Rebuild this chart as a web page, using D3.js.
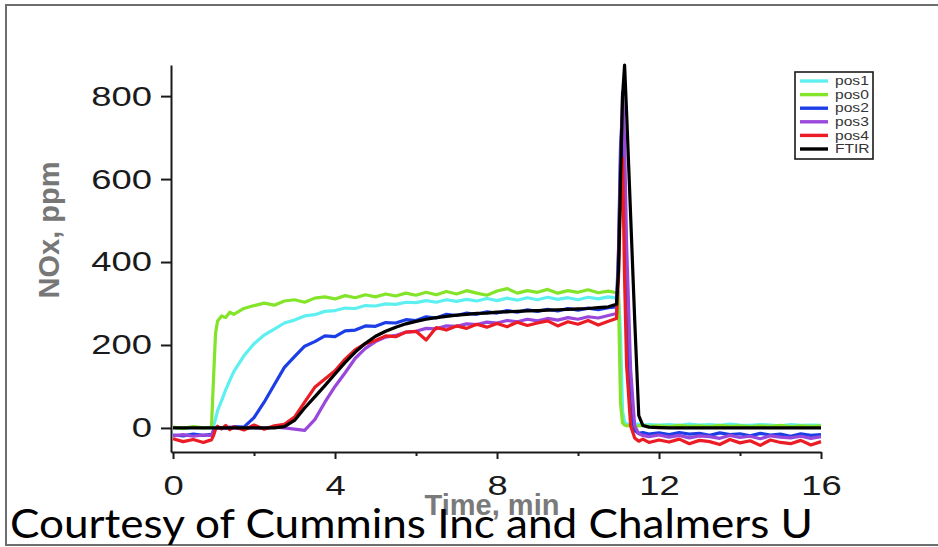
<!DOCTYPE html>
<html>
<head>
<meta charset="utf-8">
<script src="https://cdn.jsdelivr.net/npm/d3@7"></script>
<style>
	body { margin: 0; background: #fff; }
	svg { display: block; }
</style>
</head>
<body>
<svg id="chart" width="938" height="547"></svg>
<script>
// time axis (min), finer around the step-ups and the spike
const times = [
	0, 0.25, 0.5, 0.75, 0.9, 0.95,
	1.0, 1.05, 1.1, 1.2, 1.3, 1.4, 1.5,
	1.75, 2, 2.25, 2.5, 2.75, 3, 3.25, 3.5, 3.75,
	4, 4.25, 4.5, 4.75, 5, 5.25, 5.5, 5.75,
	6, 6.25, 6.5, 6.75, 7, 7.25, 7.5, 7.75,
	8, 8.25, 8.5, 8.75, 9, 9.25, 9.5, 9.75,
	10, 10.25, 10.5, 10.75, 10.95, 11, 11.05, 11.1,
	11.15, 11.2, 11.3, 11.4, 11.5, 11.6, 11.75, 12,
	12.25, 12.5, 12.75, 13, 13.25, 13.5, 13.75, 14, 14.25, 14.5, 14.75, 15, 15.25, 15.5, 15.75, 16
];

// NOx, ppm
const pos1 = [
	1, -2, 2, 0, 1, 0,
	3, 22, 42, 66, 92, 114, 136,
	174, 203, 224, 238, 253, 260, 270, 273, 281,
	283, 289, 288, 295, 294, 299, 298, 303,
	302, 307, 303, 309, 305, 310, 306, 312,
	307, 313, 308, 314, 309, 315, 310, 314,
	309, 315, 311, 316, 313, 330, 220, 40,
	14, 10, 9, 8, 9, 7, 8, 7,
	8, 6, 9, 7, 8, 6, 9, 7, 6, 8, 7, 5, 8, 6, 7, 6
];
const pos0 = [
	2, -1, 3, 0, 1, 4,
	120, 228, 258, 270, 266, 279, 274,
	288, 295, 301, 296, 306, 309, 303, 313, 316,
	311, 319, 314, 321, 316, 323, 318, 325,
	320, 327, 321, 329, 323, 331, 325, 320,
	330, 336, 325, 331, 327, 334, 325, 331,
	327, 333, 326, 330, 326, 310, 60, 12,
	7, 5, 6, 4, 5, 6, 4, 5,
	3, 6, 4, 5, 3, 6, 4, 5, 3, 5, 4, 6, 3, 5, 4, 5
];
const pos2 = [
	-17, -19, -15, -18, -16, -17,
	-6, -1, 1, -2, 2, 0, 3,
	2, 25, 62, 104, 146, 172, 197, 208, 222,
	220, 234, 236, 246, 245, 254, 253, 261,
	259, 268, 265, 274, 271, 277, 274, 280,
	277, 283, 279, 285, 281, 286, 282, 288,
	284, 289, 285, 290, 292, 430, 680, 760,
	520, 260, 40, -6, -13, -11, -15, -12,
	-16, -11, -15, -13, -18, -12, -16, -14, -19, -13, -17, -15, -20, -14, -18, -16
];
const pos3 = [
	-19, -16, -20, -17, -18, -18,
	-8, -2, 0, 1, -1, 2, 0,
	-2, 1, -1, 2, 0, -3, -6, 20, 62,
	100, 133, 168, 192, 208, 219, 223, 231,
	233, 240, 239, 246, 245, 251, 249, 255,
	253, 259, 256, 262, 258, 264, 260, 266,
	262, 268, 265, 271, 276, 410, 640, 810,
	690, 440, 140, 5, -14, -18, -21, -17,
	-22, -18, -24, -19, -21, -25, -18, -23, -20, -26, -19, -22, -24, -20, -25, -21
];
const pos4 = [
	-26, -33, -28, -35, -30, -29,
	-18, -3, 4, -2, 6, -4, 3,
	-5, 7, -3, 5, 9, 26, 62, 98, 118,
	138, 166, 189, 203, 211, 222, 220, 231,
	233, 212, 242, 236, 246, 240, 250, 243,
	252, 244, 255, 247, 253, 258, 246, 256,
	250, 259, 248, 257, 264, 360, 560, 650,
	360, 150, 5, -24, -32, -27, -35, -29,
	-34, -27, -38, -30, -33, -40, -28, -36, -31, -42, -29, -35, -38, -30, -41, -33
];
const ftir = [
	0, 0, 0, 0, 0, 0,
	0, 0, 0, 0, 0, 0, 0,
	0, 0, 0, 0, 3, 18, 48, 75, 102,
	130, 158, 183, 204, 221, 233, 243, 251,
	257, 262, 266, 269, 272, 274, 276, 277,
	279, 280, 281, 282, 283, 284, 285, 286,
	287, 288, 290, 292, 298, 380, 600, 800,
	875, 760, 510, 260, 30, 6, 2, 1,
	0, 0, 0, 0, 0, 0, 0, 0, 0, 0, 0, 0, 0, 0, 0, 0
];

const seriesNames = ["pos1", "pos0", "pos2", "pos3", "pos4", "FTIR"];
const seriesValues = [pos1, pos0, pos2, pos3, pos4, ftir];
const seriesColors = ["#5ef0f0", "#84e42a", "#1c3ee6", "#9a48dc", "#ec1c24", "#000000"];

const xTicks = [0, 4, 8, 12, 16];
const xMinorTicks = [2, 6, 10, 14];
const yTicks = [0, 200, 400, 600, 800];

const svg = d3.select("#chart");
const stretch = 1.3; // the tick fonts in the picture are wide

// outer frame (right edge runs off the page)
svg.append("rect")
	.attr("x", 6).attr("y", 5)
	.attr("width", 960).attr("height", 540)
	.attr("fill", "none")
	.attr("stroke", "#6e6e6e")
	.attr("stroke-width", 2);

const x = d3.scaleLinear().domain([-0.05, 16]).range([171, 821]);
const y = d3.scaleLinear().domain([-58, 875]).range([452, 65]);

// lines
const line = d3.line()
	.x(function(d) { return x(d[0]); })
	.y(function(d) { return y(d[1]); });

svg.append("g")
	.selectAll("path")
	.data(seriesValues)
	.enter()
	.append("path")
	.attr("d", function(vals) {
		return line(times.map(function(t, i) { return [t, vals[i]]; }));
	})
	.attr("fill", "none")
	.attr("stroke", function(d, i) { return seriesColors[i]; })
	.attr("stroke-width", 3.2)
	.attr("stroke-linejoin", "round");

// axes
const yAxis = svg.append("g")
	.attr("transform", "translate(171,0)")
	.call(d3.axisLeft(y).tickValues(yTicks).tickSize(10).tickSizeOuter(0));

yAxis.select(".domain").attr("stroke", "#1a1a1a").attr("stroke-width", 2);
yAxis.selectAll(".tick line").attr("stroke", "#1a1a1a").attr("stroke-width", 2);
yAxis.selectAll(".tick text")
	.attr("font-family", "'Liberation Sans', Arial, sans-serif")
	.attr("font-size", 28)
	.attr("fill", "#1a1a1a")
	.attr("x", -19 / stretch)
	.attr("transform", "scale(" + stretch + ",1)");

const xAxis = svg.append("g")
	.attr("transform", "translate(0,452)")
	.call(d3.axisBottom(x).tickValues(xTicks).tickSize(7).tickSizeOuter(0));

xAxis.select(".domain").attr("stroke", "#1a1a1a").attr("stroke-width", 2);
xAxis.selectAll(".tick line").attr("stroke", "#1a1a1a").attr("stroke-width", 2);
xAxis.selectAll(".tick text")
	.attr("font-family", "'Liberation Sans', Arial, sans-serif")
	.attr("font-size", 28)
	.attr("fill", "#1a1a1a")
	.attr("y", 23)
	.attr("transform", "scale(" + stretch + ",1)");

const xMinor = svg.append("g")
	.attr("transform", "translate(0,452)")
	.call(d3.axisBottom(x).tickValues(xMinorTicks).tickSize(4).tickFormat(""));
xMinor.select(".domain").remove();
xMinor.selectAll(".tick line").attr("stroke", "#1a1a1a").attr("stroke-width", 2);

// axis titles
svg.append("text")
	.attr("transform", "translate(59,230) rotate(-90)")
	.attr("text-anchor", "middle")
	.attr("font-family", "'Liberation Sans', Arial, sans-serif")
	.attr("font-weight", "bold")
	.attr("font-size", 29)
	.attr("fill", "#777")
	.text("NOx, ppm");

svg.append("text")
	.attr("x", 492).attr("y", 515)
	.attr("text-anchor", "middle")
	.attr("font-family", "'Liberation Sans', Arial, sans-serif")
	.attr("font-weight", "bold")
	.attr("font-size", 29)
	.attr("fill", "#7a7a7a")
	.text("Time, min");

// legend
const legend = svg.append("g");
legend.append("rect")
	.attr("x", 795).attr("y", 72)
	.attr("width", 78).attr("height", 87)
	.attr("fill", "#fff")
	.attr("stroke", "#1a1a1a")
	.attr("stroke-width", 1.6);

const rows = legend.selectAll("g.row")
	.data(seriesNames)
	.enter()
	.append("g")
	.attr("class", "row")
	.attr("transform", function(d, i) { return "translate(0," + (81 + i * 13.6) + ")"; });

rows.append("line")
	.attr("x1", 800).attr("x2", 828)
	.attr("stroke", function(d, i) { return seriesColors[i]; })
	.attr("stroke-width", 3.4);

rows.append("text")
	.attr("x", 835 / stretch)
	.attr("dy", "0.35em")
	.attr("transform", "scale(" + stretch + ",1)")
	.attr("font-family", "'Liberation Sans', Arial, sans-serif")
	.attr("font-size", 12)
	.attr("fill", "#333")
	.text(function(d) { return d; });

// credit line
svg.append("text")
	.attr("x", 10).attr("y", 538)
	.attr("textLength", 803)
	.attr("lengthAdjust", "spacingAndGlyphs")
	.attr("font-family", "Lato, 'Open Sans', sans-serif")
	.attr("font-size", 40)
	.attr("fill", "#000")
	.text("Courtesy of Cummins Inc and Chalmers U");
</script>
</body>
</html>
